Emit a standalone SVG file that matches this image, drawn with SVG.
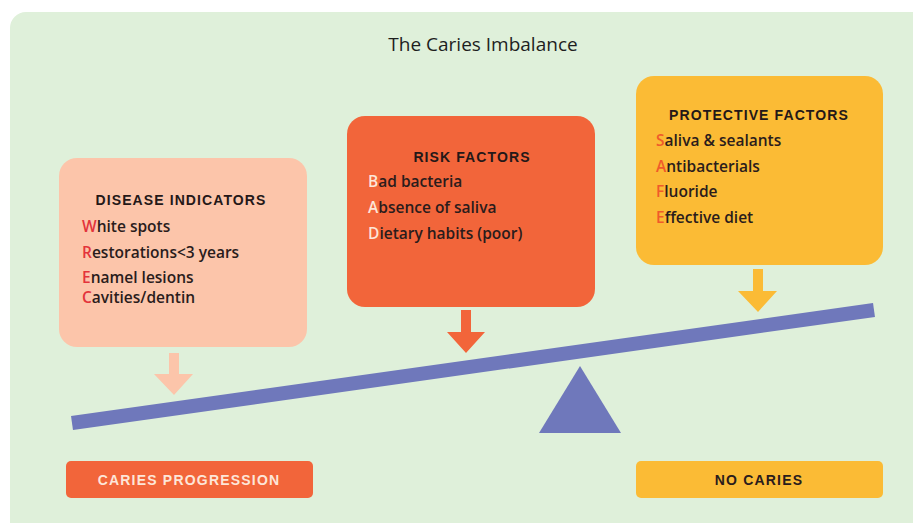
<svg xmlns="http://www.w3.org/2000/svg" width="913" height="523" viewBox="0 0 913 523">
<style>
.title{font-family:"Open Sans","Liberation Sans",sans-serif;font-size:19px;fill:#1e1e1e;text-anchor:middle}
.head{font-family:"Liberation Sans",Arial,sans-serif;font-size:14px;font-weight:bold;fill:#241818;text-anchor:middle;letter-spacing:1.1px}
.item{font-family:"Open Sans","Liberation Sans",sans-serif;font-size:15.5px;font-weight:600;fill:#2a1c1c}
.red{fill:#e3343b}
.white{fill:#fde6d8}
.orange{fill:#f05a2a}
.lbl{font-family:"Liberation Sans",Arial,sans-serif;font-size:14px;font-weight:bold;text-anchor:middle;letter-spacing:1.2px}
</style>
<rect x="10" y="12" width="930" height="540" rx="16" fill="#dff0da"/>
<text class="title" x="483" y="51">The Caries Imbalance</text>

<g id="disease-indicators">
<rect x="59" y="158" width="248" height="189" rx="18" fill="#fcc5aa"/>
<text class="head" x="181" y="205">DISEASE INDICATORS</text>
<text class="item" x="82" y="232"><tspan class="red">W</tspan>hite spots</text>
<text class="item" x="82" y="258"><tspan class="red">R</tspan>estorations&lt;3 years</text>
<text class="item" x="82" y="283"><tspan class="red">E</tspan>namel lesions</text>
<text class="item" x="82" y="303"><tspan class="red">C</tspan>avities/dentin</text>
</g>

<g id="risk-factors">
<rect x="347" y="116" width="248" height="191" rx="18" fill="#f2653a"/>
<text class="head" x="472" y="162">RISK FACTORS</text>
<text class="item" x="368" y="187"><tspan class="white">B</tspan>ad bacteria</text>
<text class="item" x="368" y="213"><tspan class="white">A</tspan>bsence of saliva</text>
<text class="item" x="368" y="239"><tspan class="white">D</tspan>ietary habits (poor)</text>
</g>

<g id="protective-factors">
<rect x="636" y="76" width="247" height="189" rx="18" fill="#fbbb35"/>
<text class="head" x="759" y="120">PROTECTIVE FACTORS</text>
<text class="item" x="656" y="146"><tspan class="orange">S</tspan>aliva &amp; sealants</text>
<text class="item" x="656" y="172"><tspan class="orange">A</tspan>ntibacterials</text>
<text class="item" x="656" y="197"><tspan class="orange">F</tspan>luoride</text>
<text class="item" x="656" y="223"><tspan class="orange">E</tspan>ffective diet</text>
</g>

<g id="connectors">
<polygon points="169,353 179,353 179,374 193,374 174,395 154,374 169,374" fill="#fcc5aa"/>
<polygon points="461,310 471,310 471,332 485,332 466,353 447,332 461,332" fill="#f2653a"/>
<polygon points="753,269 763,269 763,291 777,291 758,312 738,291 753,291" fill="#fbbb35"/>
</g>

<g id="seesaw">
<line x1="72" y1="423" x2="874" y2="310" stroke="#6f78bb" stroke-width="14"/>
<polygon points="580,366 621,433 539,433" fill="#6f78bb"/>
</g>

<g id="caries-progression">
<rect x="66" y="461" width="247" height="37" rx="5" fill="#f2653a"/>
<text class="lbl" x="189" y="485" fill="#fde6d8">CARIES PROGRESSION</text>
</g>

<g id="no-caries">
<rect x="636" y="461" width="247" height="37" rx="5" fill="#fbbb35"/>
<text class="lbl" x="759" y="485" fill="#2a1c1c">NO CARIES</text>
</g>
</svg>
